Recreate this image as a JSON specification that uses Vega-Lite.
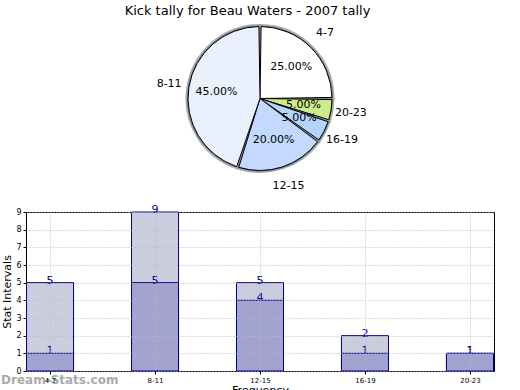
{
  "$schema": "https://vega.github.io/schema/vega-lite/v6.json",
  "padding": {"left": 0, "top": 4, "right": 5, "bottom": 0},
  "background": "white",
  "title": {"text": "Kick tally for Beau Waters - 2007 tally", "fontSize": 13, "fontWeight": "normal", "font": "DejaVu Sans", "anchor": "middle", "offset": 2, "color": "black"},
  "config": {"font": "DejaVu Sans", "view": {"stroke": null}},
  "spacing": 12,
  "vconcat": [
    {
      "width": 468,
      "height": 153,
      "data": {"values": [
        {"cat": "4-7", "v": 5, "pct": "25.00%", "ord": 1},
        {"cat": "20-23", "v": 1, "pct": "5.00%", "ord": 2},
        {"cat": "16-19", "v": 1, "pct": "5.00%", "ord": 3},
        {"cat": "12-15", "v": 4, "pct": "20.00%", "ord": 4},
        {"cat": "8-11", "v": 9, "pct": "45.00%", "ord": 5}
      ]},
      "encoding": {
        "theta": {"field": "v", "type": "quantitative", "stack": true},
        "order": {"field": "ord", "type": "quantitative"}
      },
      "layer": [
        {
          "mark": {"type": "arc", "outerRadius": 73, "stroke": "#777", "strokeWidth": 3, "padAngle": 0.03, "strokeOpacity": 0.6},
          "encoding": {}
        },
        {
          "mark": {"type": "arc", "outerRadius": 72, "stroke": "black", "strokeWidth": 1, "padAngle": 0.03},
          "encoding": {
            "color": {"field": "cat", "type": "nominal", "legend": null,
              "scale": {"domain": ["4-7", "8-11", "12-15", "16-19", "20-23"], "range": ["#ffffff", "#eaf1fd", "#c3d9ff", "#b3d4fc", "#cdeb8b"]}}
          }
        },
        {
          "mark": {"type": "text", "radius": 44, "fontSize": 11, "color": "black"},
          "encoding": {"text": {"field": "pct"}}
        },
        {
          "mark": {"type": "text", "radius": 92, "fontSize": 11, "color": "black"},
          "encoding": {"text": {"field": "cat"}}
        }
      ]
    },
    {
      "width": 468,
      "height": 159,
      "view": {"stroke": "black", "strokeWidth": 1},
      "data": {"values": [
        {"cat": "4-7", "kind": "total", "val": 5},
        {"cat": "8-11", "kind": "total", "val": 9},
        {"cat": "12-15", "kind": "total", "val": 5},
        {"cat": "16-19", "kind": "total", "val": 2},
        {"cat": "20-23", "kind": "total", "val": 1},
        {"cat": "4-7", "kind": "part", "val": 1},
        {"cat": "8-11", "kind": "part", "val": 5},
        {"cat": "12-15", "kind": "part", "val": 4},
        {"cat": "16-19", "kind": "part", "val": 1},
        {"cat": "20-23", "kind": "part", "val": 1}
      ]},
      "encoding": {
        "x": {"field": "cat", "type": "ordinal", "sort": null,
          "scale": {"type": "point", "padding": 0.229},
          "axis": {"title": "Frequency", "titleFontSize": 11, "titleFontWeight": "normal", "titlePadding": 1, "labelAngle": 0, "labelFontSize": 7, "labelColor": "black", "labelPadding": 2, "tickSize": 3, "tickColor": "black", "domain": false, "grid": true, "gridDash": [1, 2], "gridColor": "#bbb", "zindex": 1}},
        "y": {"field": "val", "type": "quantitative", "stack": null,
          "scale": {"domain": [0, 9], "nice": false},
          "axis": {"title": "Stat Intervals", "titleFontSize": 11, "titleFontWeight": "normal", "titlePadding": 3, "values": [0,1,2,3,4,5,6,7,8,9], "labelOverlap": false, "labelFontSize": 8, "labelColor": "black", "labelPadding": 2, "tickSize": 3, "tickColor": "black", "domain": false, "grid": true, "gridDash": [1, 2], "gridColor": "#bbb", "zindex": 1}}
      },
      "layer": [
        {
          "mark": {"type": "bar", "width": 47, "stroke": "#000088", "strokeWidth": 1, "opacity": 1},
          "encoding": {
            "fill": {"field": "kind", "type": "nominal", "legend": null,
              "scale": {"domain": ["total", "part"], "range": ["#ccccdf", "#a3a3cf"]}}
          }
        },
        {
          "mark": {"type": "text", "fontSize": 11, "color": "#000099", "baseline": "middle", "dy": -2},
          "encoding": {"text": {"field": "val"}}
        },
        {
          "transform": [{"filter": "datum.cat == '4-7' && datum.kind == 'part'"}],
          "mark": {"type": "text", "fontSize": 12, "fontWeight": "bold", "color": "#aaaaaa", "align": "left", "baseline": "top", "dx": -49, "dy": 4},
          "encoding": {"y": {"datum": 0}, "text": {"value": "Dream-Stats.com"}}
        }
      ]
    }
  ]
}
